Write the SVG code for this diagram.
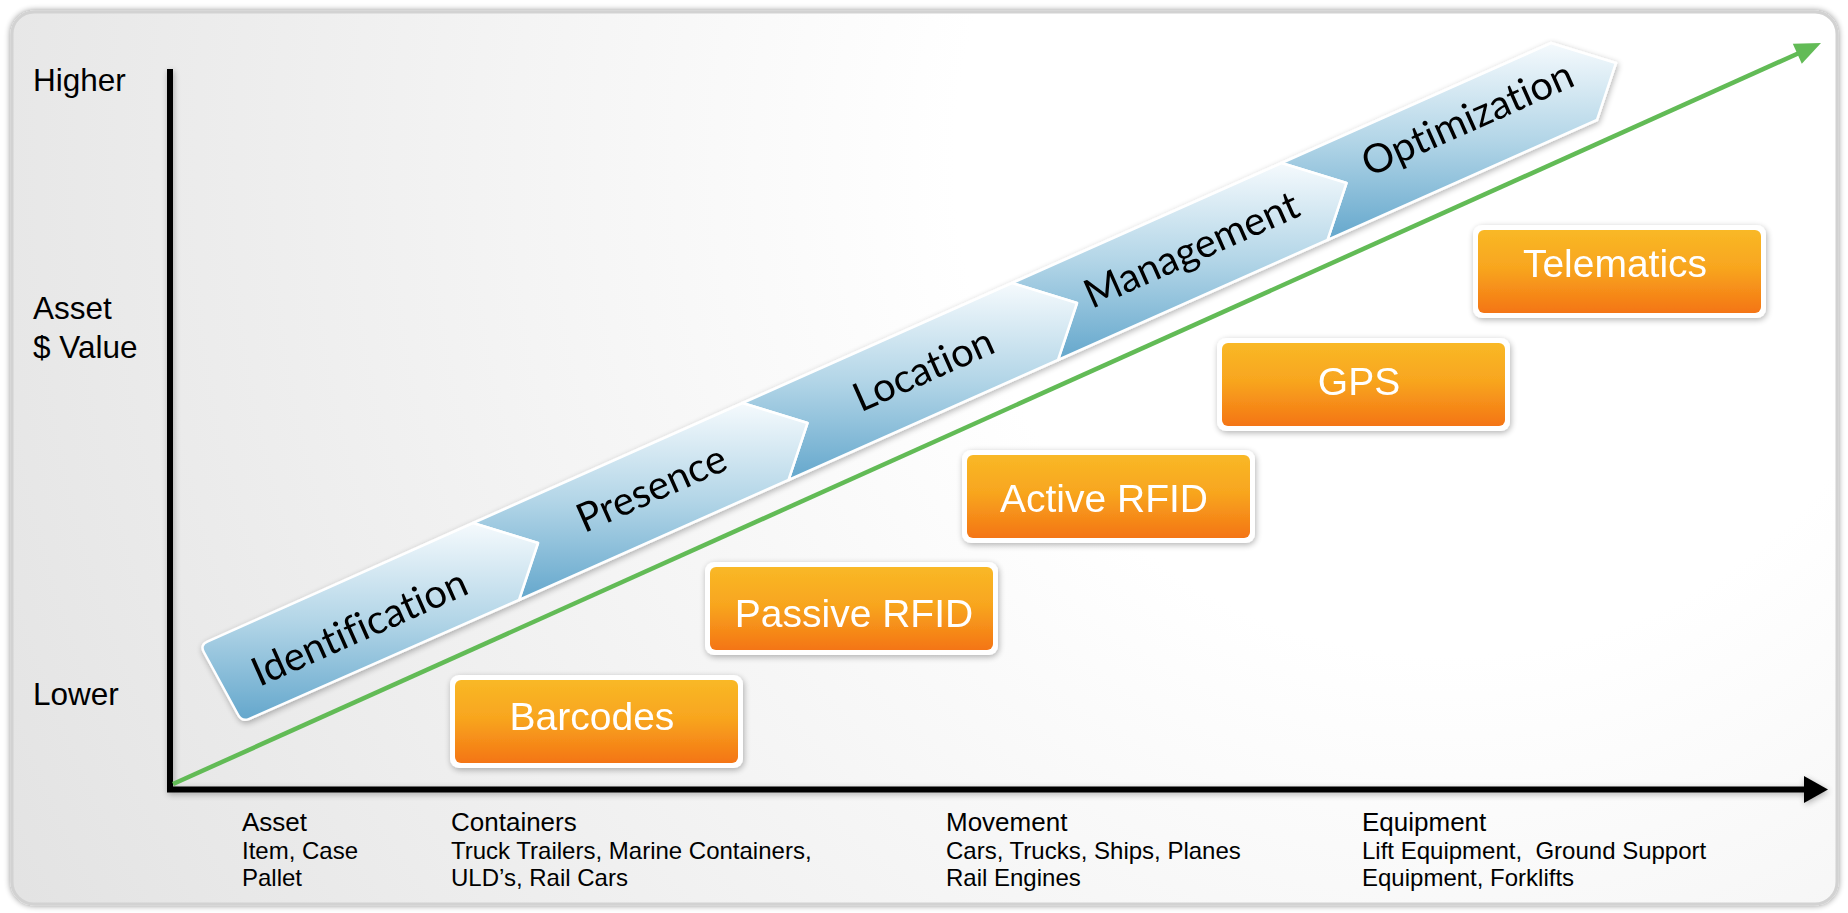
<svg xmlns="http://www.w3.org/2000/svg" width="1848" height="913" viewBox="0 0 1848 913">
<defs>
  <radialGradient id="bg" gradientUnits="userSpaceOnUse" cx="1450" cy="160" r="1650">
    <stop offset="0" stop-color="#ffffff"/>
    <stop offset="0.3" stop-color="#ffffff"/>
    <stop offset="1" stop-color="#e2e2e2"/>
  </radialGradient>
  <linearGradient id="blue" x1="0" y1="0" x2="0" y2="1">
    <stop offset="0" stop-color="#f5fafd"/>
    <stop offset="0.5" stop-color="#b2d5e7"/>
    <stop offset="1" stop-color="#64a7cc"/>
  </linearGradient>
  <linearGradient id="orange" x1="0" y1="0" x2="0" y2="1">
    <stop offset="0" stop-color="#f9b826"/>
    <stop offset="0.45" stop-color="#f8a61f"/>
    <stop offset="1" stop-color="#f47514"/>
  </linearGradient>
  <filter id="frameShadow" x="-5%" y="-5%" width="110%" height="110%">
    <feGaussianBlur in="SourceAlpha" stdDeviation="3"/>
    <feOffset dx="0" dy="0" result="b"/>
    <feComponentTransfer><feFuncA type="linear" slope="0.45"/></feComponentTransfer>
    <feMerge><feMergeNode/><feMergeNode in="SourceGraphic"/></feMerge>
  </filter>
  <filter id="soft" x="-10%" y="-20%" width="120%" height="140%">
    <feGaussianBlur in="SourceAlpha" stdDeviation="3"/>
    <feOffset dx="1" dy="2"/>
    <feComponentTransfer><feFuncA type="linear" slope="0.3"/></feComponentTransfer>
    <feMerge><feMergeNode/><feMergeNode in="SourceGraphic"/></feMerge>
  </filter>
  <style>
    .chev { fill: url(#blue); stroke: #ffffff; stroke-width: 2.5; stroke-linejoin: round; }
    .ctext { font-family: "Lato", "Open Sans", sans-serif; font-size: 40px; fill: #000000; text-anchor: middle; font-variant-ligatures: none; }
    .boxo { fill: #ffffff; }
    .boxi { fill: url(#orange); }
    .btext { font-family: "Liberation Sans", Arial, sans-serif; font-size: 39px; fill: #ffffff; text-anchor: middle; }
    .axlab { font-family: "Liberation Sans", Arial, sans-serif; font-size: 31.5px; fill: #000000; }
    .cath { font-family: "Liberation Sans", Arial, sans-serif; font-size: 26px; fill: #000000; }
    .catd { font-family: "Liberation Sans", Arial, sans-serif; font-size: 24px; fill: #000000; }
  </style>
</defs>

<rect x="0" y="0" width="1848" height="913" fill="#ffffff"/>
<rect id="frame" x="12" y="12" width="1825" height="892" rx="22" fill="url(#bg)" stroke="#d2d2d2" stroke-width="3" filter="url(#frameShadow)"/>

<g id="axis-labels">
  <text class="axlab" x="33" y="91">Higher</text>
  <text class="axlab" x="33" y="319">Asset</text>
  <text class="axlab" x="33" y="358">$ Value</text>
  <text class="axlab" x="33" y="705">Lower</text>
</g>

<g id="connectors">
  <g id="axes" filter="url(#soft)">
    <line x1="170" y1="69" x2="170" y2="792" stroke="#000" stroke-width="6"/>
    <line x1="167" y1="789.5" x2="1806" y2="789.5" stroke="#000" stroke-width="6"/>
    <polygon points="1804,776 1828,789.5 1804,803" fill="#000"/>
  </g>
  <g id="trend">
    <line x1="173" y1="784" x2="1798" y2="53.5" stroke="#62bb56" stroke-width="4.5"/>
    <polygon points="1821,43 1792.8,43.7 1801.8,63.7" fill="#62bb56"/>
  </g>
</g>

<g id="stages" filter="url(#soft)">
  <g id="optimization">
    <path class="chev" d="M1281.5,163 L1551,43 L1616,63 L1597,120 L1327.5,240 L1346.5,183 Z"/>
    <text class="ctext" transform="translate(1473,131) rotate(-24)">Optimization</text>
  </g>
  <g id="management">
    <path class="chev" d="M1012,283 L1281.5,163 L1346.5,183 L1327.5,240 L1058,360 L1077,303 Z"/>
    <text class="ctext" transform="translate(1197,262) rotate(-24)">Management</text>
  </g>
  <g id="location">
    <path class="chev" d="M742.5,403 L1012,283 L1077,303 L1058,360 L788.5,480 L807.5,423 Z"/>
    <text class="ctext" transform="translate(929,382) rotate(-24)">Location</text>
  </g>
  <g id="presence">
    <path class="chev" d="M473,523 L742.5,403 L807.5,423 L788.5,480 L519,600 L538,543 Z"/>
    <text class="ctext" transform="translate(657,501) rotate(-24)">Presence</text>
  </g>
  <g id="identification">
    <path class="chev" d="M207.3,641.7 L473,523 L538,543 L519,600 L249.3,718.8 Q242,722 238.2,715 L203.8,652 Q200,645 207.3,641.7 Z"/>
    <text class="ctext" transform="translate(365,640) rotate(-24)">Identification</text>
  </g>
</g>

<g id="technologies">
  <g id="barcodes" filter="url(#soft)">
    <rect class="boxo" x="450" y="675" width="293" height="93" rx="9"/>
    <rect class="boxi" x="455" y="680" width="283" height="83" rx="6"/>
    <text class="btext" x="592" y="730">Barcodes</text>
  </g>
  <g id="passive-rfid" filter="url(#soft)">
    <rect class="boxo" x="705" y="562" width="293" height="93" rx="9"/>
    <rect class="boxi" x="710" y="567" width="283" height="83" rx="6"/>
    <text class="btext" x="854" y="627">Passive RFID</text>
  </g>
  <g id="active-rfid" filter="url(#soft)">
    <rect class="boxo" x="962" y="450" width="293" height="93" rx="9"/>
    <rect class="boxi" x="967" y="455" width="283" height="83" rx="6"/>
    <text class="btext" x="1104" y="512">Active RFID</text>
  </g>
  <g id="gps" filter="url(#soft)">
    <rect class="boxo" x="1217" y="338" width="293" height="93" rx="9"/>
    <rect class="boxi" x="1222" y="343" width="283" height="83" rx="6"/>
    <text class="btext" x="1359" y="395">GPS</text>
  </g>
  <g id="telematics" filter="url(#soft)">
    <rect class="boxo" x="1473" y="225" width="293" height="93" rx="9"/>
    <rect class="boxi" x="1478" y="230" width="283" height="83" rx="6"/>
    <text class="btext" x="1615" y="277">Telematics</text>
  </g>
</g>

<g id="categories">
  <g id="cat-asset">
    <text class="cath" x="242" y="831">Asset</text>
    <text class="catd" x="242" y="859">Item, Case</text>
    <text class="catd" x="242" y="886">Pallet</text>
  </g>
  <g id="cat-containers">
    <text class="cath" x="451" y="831">Containers</text>
    <text class="catd" x="451" y="859">Truck Trailers, Marine Containers,</text>
    <text class="catd" x="451" y="886">ULD’s, Rail Cars</text>
  </g>
  <g id="cat-movement">
    <text class="cath" x="946" y="831">Movement</text>
    <text class="catd" x="946" y="859">Cars, Trucks, Ships, Planes</text>
    <text class="catd" x="946" y="886">Rail Engines</text>
  </g>
  <g id="cat-equipment">
    <text class="cath" x="1362" y="831">Equipment</text>
    <text class="catd" x="1362" y="859">Lift Equipment,&#160; Ground Support</text>
    <text class="catd" x="1362" y="886">Equipment, Forklifts</text>
  </g>
</g>
</svg>
